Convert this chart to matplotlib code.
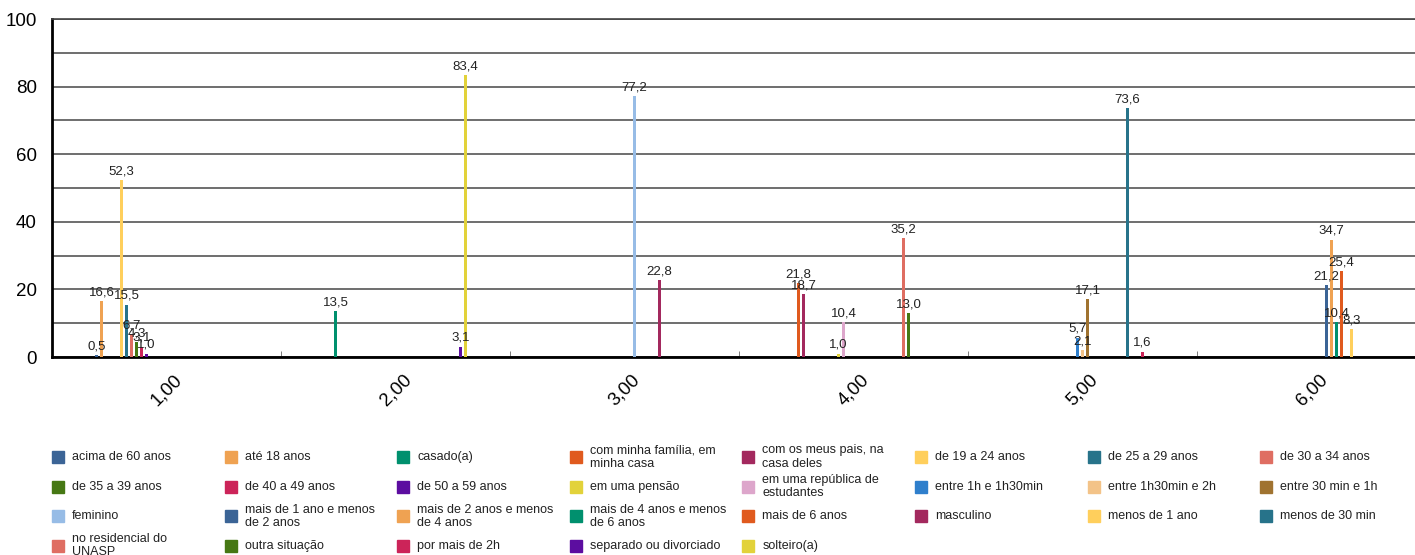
import textwrap
import matplotlib
matplotlib.use("Agg")
import matplotlib.pyplot as plt
from matplotlib.patches import Rectangle
from matplotlib.ticker import MultipleLocator

plt.rcParams["font.family"] = ["Liberation Sans", "DejaVu Sans"]

categories = ["1,00", "2,00", "3,00", "4,00", "5,00", "6,00"]

series = [
    "acima de 60 anos", "até 18 anos", "casado(a)", "com minha família, em minha casa",
    "com os meus pais, na casa deles", "de 19 a 24 anos", "de 25 a 29 anos", "de 30 a 34 anos",
    "de 35 a 39 anos", "de 40 a 49 anos", "de 50 a 59 anos", "em uma pensão",
    "em uma república de estudantes", "entre 1h e 1h30min", "entre 1h30min e 2h", "entre 30 min e 1h",
    "feminino", "mais de 1 ano e menos de 2 anos", "mais de 2 anos e menos de 4 anos",
    "mais de 4 anos e menos de 6 anos", "mais de 6 anos", "masculino", "menos de 1 ano",
    "menos de 30 min", "no residencial do UNASP", "outra situação", "por mais de 2h",
    "separado ou divorciado", "solteiro(a)",
]

palette = [
    "#3b6496", "#efa252", "#00906e", "#e05a1e", "#a3295e", "#ffcf5c", "#27738a", "#df6e62",
    "#467814", "#cc2459", "#5c0da0", "#e2d23a", "#dda6cb", "#2f7fcc", "#f3c388", "#a07330",
    "#97bce6",
]
colors = palette + palette[:12]

# one list per category, one value per series (0 = no bar)
cat1 = [0.5, 16.6, 0, 0, 0, 52.3, 15.5, 6.7, 4.3, 3.1, 1.0, 0, 0, 0, 0, 0,
        0, 0, 0, 0, 0, 0, 0, 0, 0, 0, 0, 0, 0]
cat2 = [0, 0, 13.5, 0, 0, 0, 0, 0, 0, 0, 0, 0, 0, 0, 0, 0,
        0, 0, 0, 0, 0, 0, 0, 0, 0, 0, 0, 3.1, 83.4]
cat3 = [0, 0, 0, 0, 0, 0, 0, 0, 0, 0, 0, 0, 0, 0, 0, 0,
        77.2, 0, 0, 0, 0, 22.8, 0, 0, 0, 0, 0, 0, 0]
cat4 = [0, 0, 0, 21.8, 18.7, 0, 0, 0, 0, 0, 0, 1.0, 10.4, 0, 0, 0,
        0, 0, 0, 0, 0, 0, 0, 0, 35.2, 13.0, 0, 0, 0]
cat5 = [0, 0, 0, 0, 0, 0, 0, 0, 0, 0, 0, 0, 0, 5.7, 2.1, 17.1,
        0, 0, 0, 0, 0, 0, 0, 73.6, 0, 0, 1.6, 0, 0]
cat6 = [0, 0, 0, 0, 0, 0, 0, 0, 0, 0, 0, 0, 0, 0, 0, 0,
        0, 21.2, 34.7, 10.4, 25.4, 0, 8.3, 0, 0, 0, 0, 0, 0]
values = [cat1, cat2, cat3, cat4, cat5, cat6]

W, H = 1415, 555
fig = plt.figure(figsize=(W / 100, H / 100), dpi=100)
ax = fig.add_axes([52 / W, (H - 357) / H, 1374 / W, 338 / H])

n = len(series)
slot = 5 / 229
bw = 3 / 229
for i, name in enumerate(series):
    xs, ys = [], []
    for c, vals in enumerate(values):
        if vals[i] > 0:
            xs.append(c + (i - (n - 1) / 2) * slot)
            ys.append(vals[i])
    bars = ax.bar(xs, ys, width=bw, color=colors[i], zorder=3)
    for b, v in zip(bars, ys):
        ax.annotate(f"{v:.1f}".replace(".", ","), (b.get_x() + b.get_width() / 2, v),
                    xytext=(0, 2), textcoords="offset points", ha="center", va="bottom",
                    fontsize=9.5, color="#222222", zorder=4)

ax.set_xlim(-0.5, len(categories) - 0.5)
ax.set_ylim(0, 100)
ax.yaxis.set_major_locator(MultipleLocator(20))
ax.yaxis.set_minor_locator(MultipleLocator(10))
ax.grid(axis="y", which="both", color="#555555", linewidth=1.2, zorder=0)
ax.set_xticks(range(len(categories)))
ax.set_xticklabels(categories, rotation=45, ha="center", fontsize=13.5)
ax.set_xticks([c + 0.5 for c in range(-1, len(categories))], minor=True)
ax.tick_params(axis="x", which="major", length=0, pad=10)
ax.tick_params(axis="x", which="minor", direction="in", length=4, color="#666666")
ax.tick_params(axis="y", which="both", length=0, pad=11, labelsize=13.5)
ax.spines["left"].set_linewidth(2)
ax.spines["bottom"].set_linewidth(2)
ax.spines["top"].set_color("#444444")
ax.spines["top"].set_linewidth(1.2)
ax.spines["right"].set_visible(False)

# legend, laid out row by row like the original
for k, name in enumerate(series):
    row, col = divmod(k, 8)
    x0 = 52 + col * 172.6
    yc = 457 + row * 29.6
    fig.add_artist(Rectangle((x0 / W, 1 - (yc + 6) / H), 12 / W, 12 / H,
                             transform=fig.transFigure, color=colors[k]))
    fig.text((x0 + 20) / W, 1 - yc / H, textwrap.fill(name, 22), fontsize=9,
             va="center", ha="left", color="#222222", linespacing=1.15)

fig.savefig("out.png", dpi=100)
